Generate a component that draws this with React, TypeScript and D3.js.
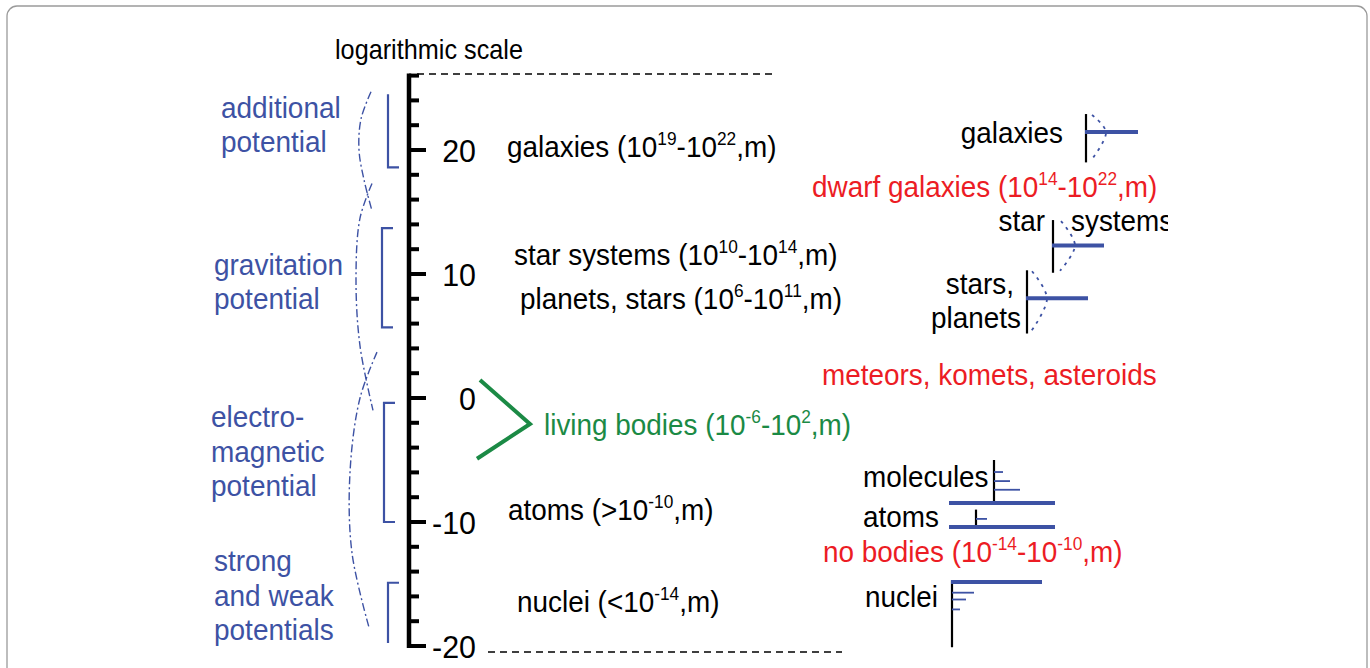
import React from "react";
import * as d3 from "d3";

// ---------- data ----------
const axisDomain = [-20, 26];
const minorTickValues = d3.range(-20, 27, 2);
const majorTickValues = [20, 10, 0, -10, -20];
const majorTickLabels = ["20", "10", "0", "-10", "-20"];

const centerLabels = [
  "galaxies (10^{19}-10^{22},m)",
  "star systems (10^{10}-10^{14},m)",
  "planets, stars (10^{6}-10^{11},m)",
  "atoms (>10^{-10},m)",
  "nuclei (<10^{-14},m)",
];
const centerLabelLog = [19.45, 10.75, 7.2, -9.85, -17.25];

const livingLabel = "living bodies (10^{-6}-10^{2},m)";
const livingLog = -3.0;
const livingChevronLog = [1.45, -2.1, -4.9];

const potentialNames = [
  ["additional", "potential"],
  ["gravitation", "potential"],
  ["electro-", "magnetic", "potential"],
  ["strong", "and weak", "potentials"],
];
const potentialTextLog = [22.6, 9.95, -2.35, -13.95];
const potentialRanges = [
  [24.5, 18.6],
  [13.7, 5.7],
  [-0.4, -10.0],
  [-14.9, -19.75],
];
const potentialFeet = [
  [false, true],
  [true, true],
  [true, true],
  [true, false],
];
// dash-dot transition curves in log units (top, bulge, bottom)
const transitionCurves = [
  [24.7, 22.5, 20.0, 17.6, 15.1],
  [17.3, 14.5, 9.6, 4.2, -1.0],
  [3.7, 0.0, -6.0, -12.5, -18.5],
];

const redLabels = [
  "dwarf galaxies (10^{14}-10^{22},m)",
  "meteors, komets, asteroids",
  "no bodies (10^{-14}-10^{-10},m)",
];
const redLabelLog = [16.2, 1.05, -13.2];

// large-scale structures (right panel): vertical extent, bar level
const bigNames = ["galaxies", "star systems", "stars, planets"];
const bigTop = [22.9, 14.35, 10.3];
const bigBottom = [19.0, 10.1, 5.2];
const bigBar = [21.45, 12.3, 8.05];

// small-scale structures
const smallNames = ["molecules", "atoms", "nuclei"];
const smallTop = [-5.0, -9.0, -14.7];
const smallBottom = [-8.6, -10.5, -20.1];
const smallBars = [[-8.47, -10.4], [-10.4], [-14.84]];
const smallTicks = [[-5.97, -6.7, -7.4], [-9.75], [-15.7, -16.25, -17.05]];
const smallTickLen = [[9, 16, 26], [11], [22, 14, 8]];

// ---------- style ----------
const W = 1370;
const H = 668;
const BLUE = "#3d52a4";
const RED = "#ec1c24";
const GREEN = "#1b8a45";
const FONT = "'Liberation Sans', Arial, Helvetica, sans-serif";
const SX = 0.93;

type Seg = { t: string; sup: boolean };
function parse(s: string): Seg[] {
  const out: Seg[] = [];
  const re = /\^\{([^}]*)\}/g;
  let last = 0;
  let m: RegExpExecArray | null;
  while ((m = re.exec(s))) {
    if (m.index > last) out.push({ t: s.slice(last, m.index), sup: false });
    out.push({ t: m[1], sup: true });
    last = m.index + m[0].length;
  }
  if (last < s.length) out.push({ t: s.slice(last), sup: false });
  return out;
}

function Rich(props: {
  x: number;
  y: number;
  text: string;
  size?: number;
  fill?: string;
  anchor?: string;
  sx?: number;
  clip?: string;
}) {
  const { x, y, text, size = 30, fill = "#000", anchor = "start", sx = SX, clip } = props;
  const segs = parse(text);
  const raise = size * 0.4;
  let prevSup = false;
  return (
    <g clipPath={clip}>
      <g transform={`translate(${x},${y}) scale(${sx},1)`}>
        <text textAnchor={anchor as any} fontSize={size} fill={fill} fontFamily={FONT}>
          {segs.map((s, i) => {
            let dy = 0;
            if (s.sup) dy = -raise;
            else if (prevSup) dy = raise;
            prevSup = s.sup;
            return (
              <tspan key={i} dy={dy} fontSize={s.sup ? size * 0.62 : size}>
                {s.t}
              </tspan>
            );
          })}
        </text>
      </g>
    </g>
  );
}

export default function App() {
  const y = d3.scaleLinear().domain(axisDomain).range([646, 75.6]);
  const AX = 409;

  const curveLine = d3
    .line<[number, number]>()
    .x((d) => d[0])
    .y((d) => d[1])
    .curve(d3.curveCatmullRom.alpha(0.5));

  const curveX = [
    [371, 361, 359, 364, 372],
    [372, 360, 356, 360, 373],
    [377, 360, 350, 352, 369],
  ];

  const bigX = [1086, 1053, 1027];
  const bigBarEnd = [1138, 1104, 1088];
  const bigPeak = [1106, 1075, 1047];
  const bigDotStart = [6, 8, 5];

  const smallX = [994, 976, 952];
  const smallBarX = [
    [949, 1055],
    [949, 1055],
    [951, 1042],
  ];

  const chevX = [480, 530, 477];

  return (
    <svg
      width={W}
      height={H}
      style={{ position: "absolute", left: 0, top: 0, background: "#fff" }}
    >
      <defs>
        <clipPath id="clipR">
          <rect x={0} y={0} width={1168} height={H} />
        </clipPath>
      </defs>
      <rect x={7} y={6} width={1360} height={700} rx={10} fill="#fff" stroke="#9a9a9a" strokeWidth={1.3} />

      {/* title */}
      <Rich x={335} y={59} text="logarithmic scale" size={27} sx={0.935} />

      {/* dashed limits */}
      <line x1={417} x2={774} y1={74} y2={74} stroke="#000" strokeWidth={1.5} strokeDasharray="7 5" />
      <line x1={488} x2={842} y1={652} y2={652} stroke="#000" strokeWidth={1.5} strokeDasharray="7 5" />

      {/* axis */}
      <line x1={AX} x2={AX} y1={y(26) - 2} y2={y(-20) + 2} stroke="#000" strokeWidth={4.5} />
      {minorTickValues.map((v) => (
        <line
          key={v}
          x1={AX}
          x2={majorTickValues.includes(v) ? 426 : 419}
          y1={y(v)}
          y2={y(v)}
          stroke="#000"
          strokeWidth={4}
        />
      ))}
      {majorTickValues.map((v, i) => (
        <Rich key={v} x={476} y={y(v) + 11.5} text={majorTickLabels[i]} size={32} anchor="end" sx={0.95} />
      ))}

      {/* center labels */}
      {centerLabels.map((t, i) => {
        const xs = [507, 514, 520, 508, 517];
        return <Rich key={t} x={xs[i]} y={y(centerLabelLog[i])} text={t} />;
      })}

      {/* living bodies */}
      <path
        d={d3.line()(livingChevronLog.map((v, i) => [chevX[i], y(v)]) as any) || ""}
        fill="none"
        stroke={GREEN}
        strokeWidth={4}
      />
      <Rich x={544} y={y(livingLog)} text={livingLabel} fill={GREEN} />

      {/* potentials */}
      {potentialNames.map((lines, i) => {
        const tx = [221, 214, 211, 214][i];
        const bx = [388, 382, 384, 388][i];
        const [a, b] = potentialRanges[i];
        const [ft, fb] = potentialFeet[i];
        let d = "";
        if (ft) d += `M${bx + 11},${y(a)}L${bx},${y(a)}`;
        else d += `M${bx},${y(a)}`;
        d += `L${bx},${y(b)}`;
        if (fb) d += `L${bx + 11},${y(b)}`;
        return (
          <g key={i}>
            {lines.map((l, j) => (
              <Rich key={j} x={tx} y={y(potentialTextLog[i]) + j * 34.6} text={l} fill={BLUE} size={29} sx={0.965} />
            ))}
            <path d={d} fill="none" stroke={BLUE} strokeWidth={2.2} />
          </g>
        );
      })}
      {transitionCurves.map((c, i) => (
        <path
          key={i}
          d={curveLine(c.map((v, j) => [curveX[i][j], y(v)] as [number, number])) || ""}
          fill="none"
          stroke={BLUE}
          strokeWidth={1.4}
          strokeDasharray="8 3 2 3"
        />
      ))}

      {/* red labels */}
      {redLabels.map((t, i) => {
        const xs = [812, 822, 823];
        return <Rich key={t} x={xs[i]} y={y(redLabelLog[i])} text={t} fill={RED} />;
      })}

      {/* big structures */}
      {bigNames.map((n, i) => {
        const x = bigX[i];
        const pts: [number, number][] = [
          [x + bigDotStart[i], y(bigTop[i]) + 1],
          [bigPeak[i], y(bigBar[i])],
          [x + bigDotStart[i] - 1, y(bigBottom[i]) - 2],
        ];
        return (
          <g key={n}>
            <line x1={x} x2={x} y1={y(bigTop[i])} y2={y(bigBottom[i])} stroke="#000" strokeWidth={2.2} />
            <line x1={x - 1} x2={bigBarEnd[i]} y1={y(bigBar[i])} y2={y(bigBar[i])} stroke={BLUE} strokeWidth={4} />
            <path
              d={d3.line().curve(d3.curveCatmullRom)(pts) || ""}
              fill="none"
              stroke={BLUE}
              strokeWidth={1.8}
              strokeDasharray="3 5"
            />
          </g>
        );
      })}
      <Rich x={1063} y={143} text="galaxies" anchor="end" />
      <Rich x={1045} y={231} text="star" anchor="end" />
      <Rich x={1071} y={231} text="systems" clip="url(#clipR)" />
      <Rich x={1014} y={294} text="stars," anchor="end" />
      <Rich x={1021} y={328} text="planets" anchor="end" />

      {/* small structures */}
      {smallNames.map((n, i) => {
        const x = smallX[i];
        return (
          <g key={n}>
            <line x1={x} x2={x} y1={y(smallTop[i])} y2={y(smallBottom[i])} stroke="#000" strokeWidth={2.2} />
            {smallTicks[i].map((v, j) => (
              <line key={j} x1={x} x2={x + smallTickLen[i][j]} y1={y(v)} y2={y(v)} stroke={BLUE} strokeWidth={1.8} />
            ))}
            {smallBars[i].map((v, j) => (
              <line key={j} x1={smallBarX[i][0]} x2={smallBarX[i][1]} y1={y(v)} y2={y(v)} stroke={BLUE} strokeWidth={4} />
            ))}
          </g>
        );
      })}
      <Rich x={863} y={487} text="molecules" />
      <Rich x={863} y={527} text="atoms" />
      <Rich x={865} y={607} text="nuclei" />
    </svg>
  );
}
